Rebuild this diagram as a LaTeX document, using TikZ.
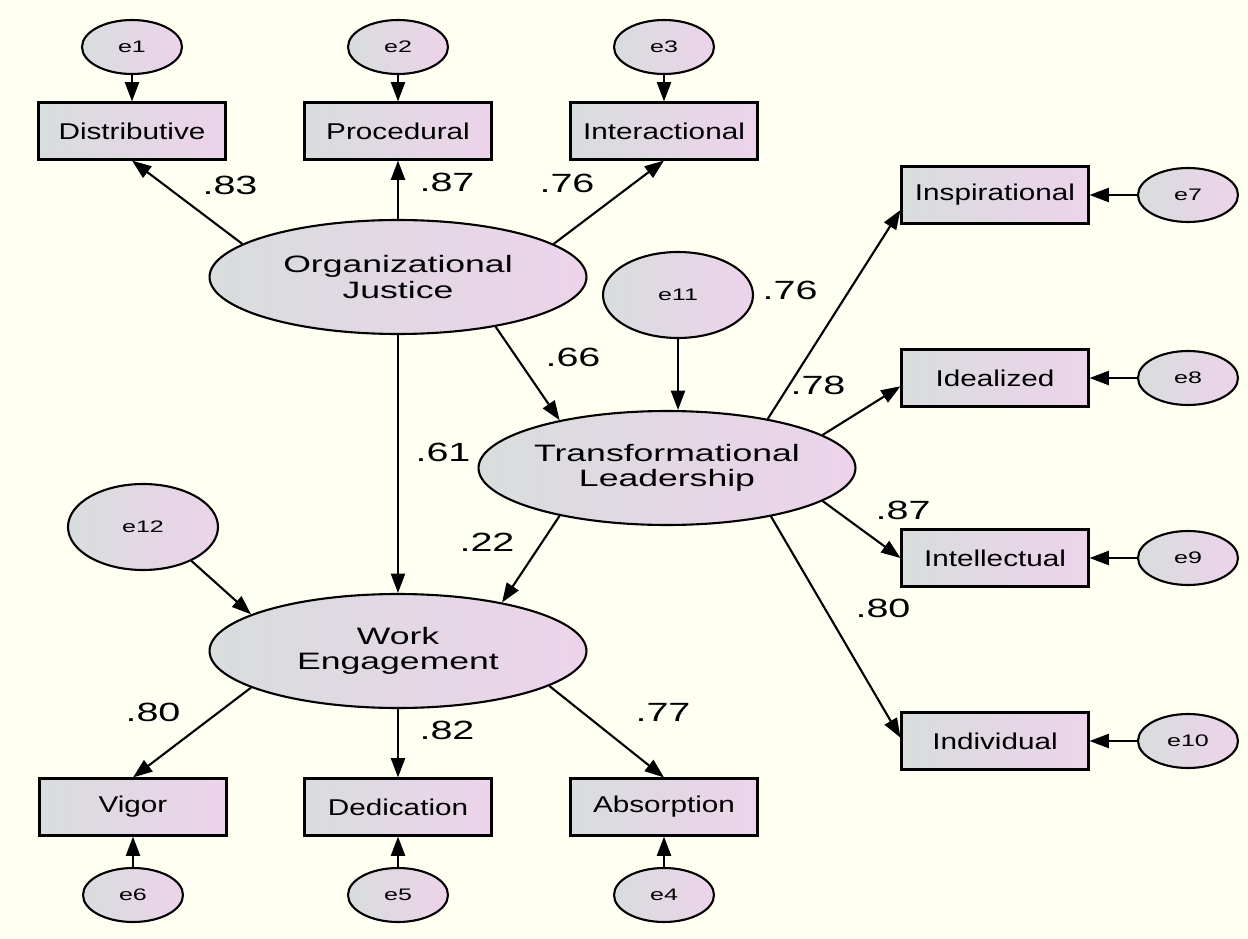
\documentclass[tikz,border=0pt]{standalone}
\usepackage{fontspec}
\setmainfont{Liberation Sans}
\newfontfamily\amosfont[FakeStretch=1.5]{Liberation Sans}
\newfontfamily\boxfont[FakeStretch=1.3]{Liberation Sans}
\usetikzlibrary{shapes.geometric,arrows.meta}
\definecolor{paper}{RGB}{255,255,242}
\definecolor{shadeL}{RGB}{216,221,221}
\definecolor{shadeR}{RGB}{237,211,234}
\begin{document}
\begin{tikzpicture}[x=0.02cm,y=-0.02cm,
    obs/.style={draw,line width=1.2pt,left color=shadeL,right color=shadeR,
        minimum width=3.74cm,minimum height=1.14cm,inner sep=0pt,
        font=\boxfont\fontsize{13}{15}\selectfont},
    lat/.style={ellipse,draw,line width=1.2pt,left color=shadeL,right color=shadeR,
        minimum width=7.54cm,minimum height=2.28cm,inner sep=0pt,align=center,
        font=\amosfont\fontsize{13.5}{14.5}\selectfont},
    err/.style={ellipse,draw,line width=1.2pt,left color=shadeL,right color=shadeR,
        minimum width=2cm,minimum height=1.08cm,inner sep=0pt,
        font=\amosfont\fontsize{9.5}{11}\selectfont},
    dist/.style={err,minimum width=3cm,minimum height=1.72cm},
    path/.style={-{Triangle[length=11pt,width=8pt]},line width=1.2pt},
    coef/.style={font=\amosfont\fontsize{15}{17}\selectfont}]
    \fill[paper] (0,0) rectangle (1248,939);
    \useasboundingbox (0,0) rectangle (1248,939);
    % organizational justice
    \node[err] (e1) at (132,47) {e1};
    \node[err] (e2) at (398,47) {e2};
    \node[err] (e3) at (664,47) {e3};
    \node[obs] (dis) at (132,131) {Distributive};
    \node[obs] (pro) at (398,131) {Procedural};
    \node[obs] (int) at (664,131) {Interactional};
    \node[lat] (oj) at (398,277) {Organizational\\Justice};
    % transformational leadership
    \node[dist] (e11) at (678,295) {e11};
    \node[lat] (tl) at (667,468) {Transformational\\Leadership};
    \node[obs] (insp) at (995,195) {Inspirational};
    \node[obs] (idl) at (995,378) {Idealized};
    \node[obs] (itl) at (995,558) {Intellectual};
    \node[obs] (ind) at (995,741) {Individual};
    \node[err] (e7) at (1188,195) {e7};
    \node[err] (e8) at (1188,378) {e8};
    \node[err] (e9) at (1188,558) {e9};
    \node[err] (e10) at (1188,741) {e10};
    % work engagement
    \node[dist] (e12) at (143,527) {e12};
    \node[lat] (we) at (398,651) {Work\\Engagement};
    \node[obs] (vig) at (133,807) {Vigor};
    \node[obs] (ded) at (398,807) {Dedication};
    \node[obs] (abs) at (664,807) {Absorption};
    \node[err] (e6) at (133,895) {e6};
    \node[err] (e5) at (398,895) {e5};
    \node[err] (e4) at (664,895) {e4};
    % error terms
    \foreach \e/\b in {e1/dis,e2/pro,e3/int,e7/insp,e8/idl,e9/itl,e10/ind,e6/vig,e5/ded,e4/abs}
        \draw[path] (\e) -- (\b);
    % loadings and paths
    \draw[path] (oj.168) -- (dis.south);
    \draw[path] (oj.north) -- (pro.south);
    \draw[path] (oj.12) -- (int.south);
    \draw[path] (oj.south) -- (we.north);
    \draw[path] (oj.-27) -- (tl.156);
    \draw[path] (e11.south) -- (e11.south |- tl.north);
    \draw[path] (tl.-156) -- (we.25);
    \draw[path] (e12.-35) -- (we.166);
    \draw[path] (we.-166.5) -- (vig.north);
    \draw[path] (we.south) -- (ded.north);
    \draw[path] (we.-13.5) -- (abs.north);
    \draw[path] (tl.26) -- (insp.189);
    \draw[path] (tl.12.6) -- (idl.185);
    \draw[path] (tl.-12.3) -- (itl.west);
    \draw[path] (tl.-25.4) -- (ind.178);
    % coefficients
    \node[coef] (c1) at (230,185) {.83};
    \node[coef] (c2) at (447,182) {.87};
    \node[coef] (c3) at (567,183) {.76};
    \node[coef] (c4) at (790,290) {.76};
    \node[coef] (c5) at (573,357) {.66};
    \node[coef] (c6) at (443,452) {.61};
    \node[coef] (c7) at (487,542) {.22};
    \node[coef] (c8) at (818,385) {.78};
    \node[coef] (c9) at (903,510) {.87};
    \node[coef] (c10) at (883,608) {.80};
    \node[coef] (c11) at (153,712) {.80};
    \node[coef] (c12) at (447,730) {.82};
    \node[coef] (c13) at (663,712) {.77};
\end{tikzpicture}
\end{document}
